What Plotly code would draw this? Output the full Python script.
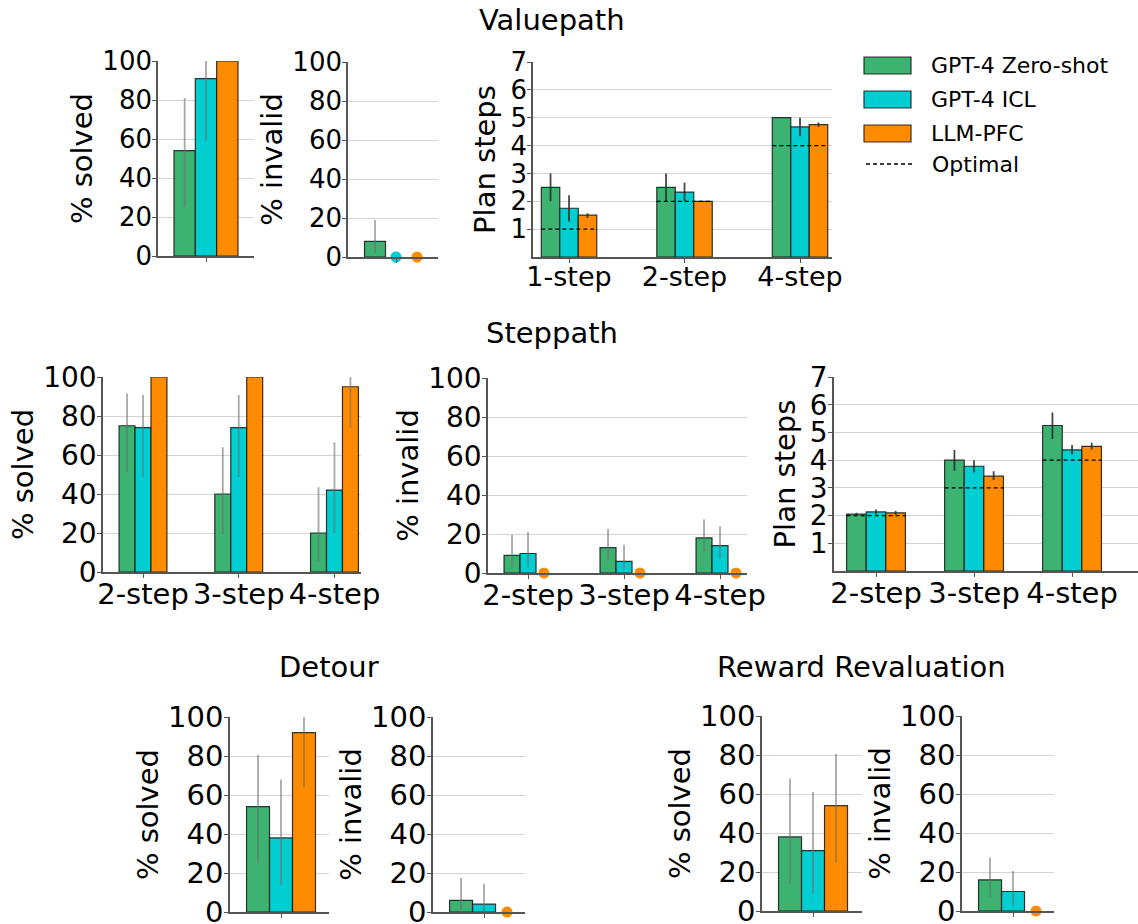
import plotly.graph_objects as go

# ---------------- data ----------------
SERIES = ["GPT-4 Zero-shot", "GPT-4 ICL", "LLM-PFC"]
COLORS = ["#3cb371", "#00ced1", "#ff8c00"]

vp_steps = ["1-step", "2-step", "4-step"]
sp_steps = ["2-step", "3-step", "4-step"]
single = [""]

# Valuepath
vp_solved_mean = [[54], [91], [100]]
vp_solved_lo = [[25], [59], [100]]
vp_solved_hi = [[81], [100], [100]]

vp_invalid_mean = [[8], [0], [0]]
vp_invalid_lo = [[2], [0], [0]]
vp_invalid_hi = [[19], [0], [0]]

vp_plan_mean = [[2.5, 2.5, 5.0], [1.75, 2.33, 4.67], [1.5, 2.0, 4.75]]
vp_plan_lo = [[2.0, 2.0, 5.0], [1.27, 2.0, 4.33], [1.4, 2.0, 4.67]]
vp_plan_hi = [[3.0, 3.0, 5.0], [2.22, 2.67, 5.0], [1.57, 2.0, 4.83]]
vp_optimal = [1, 2, 4]

# Steppath
sp_solved_mean = [[75, 40, 20], [74, 74, 42], [100, 100, 95]]
sp_solved_lo = [[51, 19, 5.5], [48.7, 48.7, 20], [100, 100, 74]]
sp_solved_hi = [[91.5, 64, 43.5], [90.8, 90.8, 66.5], [100, 100, 100]]

sp_invalid_mean = [[9, 13, 18], [10, 6, 14], [0, 0, 0]]
sp_invalid_lo = [[3, 7, 11], [3, 2, 7.5], [0, 0, 0]]
sp_invalid_hi = [[19.5, 22.5, 27.5], [21, 14.5, 24], [0, 0, 0]]

sp_plan_mean = [[2.05, 4.0, 5.25], [2.13, 3.78, 4.37], [2.1, 3.42, 4.5]]
sp_plan_lo = [[2.0, 3.62, 4.76], [2.05, 3.55, 4.2], [2.03, 3.28, 4.38]]
sp_plan_hi = [[2.1, 4.37, 5.72], [2.22, 4.0, 4.55], [2.17, 3.6, 4.63]]
sp_optimal = [2, 3, 4]

# Detour
dt_solved_mean = [[54], [38], [92]]
dt_solved_lo = [[25], [14], [64]]
dt_solved_hi = [[80.5], [68], [100]]

dt_invalid_mean = [[6], [4], [0]]
dt_invalid_lo = [[1], [0], [0]]
dt_invalid_hi = [[17.5], [14.5], [0]]

# Reward Revaluation
rr_solved_mean = [[38], [31], [54]]
rr_solved_lo = [[14], [9], [25]]
rr_solved_hi = [[68], [61], [80.5]]

rr_invalid_mean = [[16], [10], [0]]
rr_invalid_lo = [[7], [3], [0]]
rr_invalid_hi = [[27.5], [20.5], [0]]

pct_ticks = [0, 20, 40, 60, 80, 100]
step_ticks = [1, 2, 3, 4, 5, 6, 7]

# ---------------- layout helpers ----------------
W, H = 1138, 924
FONT = "DejaVu Sans"
AXIS_COL = "#555555"
GRID_COL = "#d4d4d4"

fig = go.Figure()
layout_axes = {}


def add_panel(k, cats, mean, lo, hi, px_x, px_y, xrange, w, kind,
              ytitle, tick_size, optimal=None):
    xa = "x" if k == 1 else f"x{k}"
    ya = "y" if k == 1 else f"y{k}"
    n = len(cats)
    err_col = "rgba(110,110,110,0.6)" if kind == "pct" else "rgba(40,40,40,0.85)"
    for j in range(3):
        xs = [i + (j - 1) * w for i in range(n)]
        ys = [v if v != 0 else None for v in mean[j]]
        plus = [h - v for h, v in zip(hi[j], mean[j])]
        minus = [v - l for l, v in zip(lo[j], mean[j])]
        fig.add_trace(go.Bar(
            x=xs, y=ys, width=w, name=SERIES[j], showlegend=False,
            marker=dict(color=COLORS[j], line=dict(color="rgba(20,20,20,0.85)", width=1.2)),
            error_y=dict(type="data", symmetric=False, array=plus, arrayminus=minus,
                         color=err_col, thickness=1.8, width=0),
            xaxis=xa, yaxis=ya))
        zx = [x for x, v in zip(xs, mean[j]) if v == 0]
        if zx:
            fig.add_trace(go.Scatter(
                x=zx, y=[0] * len(zx), mode="markers", showlegend=False,
                marker=dict(color=COLORS[j], size=11, line=dict(width=0)),
                cliponaxis=False, xaxis=xa, yaxis=ya))
    if optimal is not None:
        ox, oy = [], []
        for i, v in enumerate(optimal):
            ox += [i - 1.5 * w, i + 1.5 * w, None]
            oy += [v, v, None]
        fig.add_trace(go.Scatter(
            x=ox, y=oy, mode="lines", showlegend=False, name="Optimal",
            line=dict(color="black", dash="4px,3px", width=1.3),
            xaxis=xa, yaxis=ya))

    if kind == "pct":
        yr, tv, stand = [0, 100], pct_ticks, 1
    else:
        yr, tv, stand = [0, 7], step_ticks, 6
    xkey = "xaxis" if k == 1 else f"xaxis{k}"
    ykey = "yaxis" if k == 1 else f"yaxis{k}"
    layout_axes[xkey] = dict(
        domain=[px_x[0] / W, px_x[1] / W], range=xrange, anchor=ya,
        tickmode="array", tickvals=list(range(n)), ticktext=cats,
        ticks="outside", ticklen=4, tickwidth=1.2, tickcolor=AXIS_COL,
        ticklabelstandoff=-9, ticklabeloverflow="allow",
        showline=True, linecolor=AXIS_COL, linewidth=1.6,
        showgrid=False, zeroline=False, automargin=False, fixedrange=True,
        tickfont=dict(family=FONT, size=tick_size + 1, color="black"))
    layout_axes[ykey] = dict(
        domain=[1 - px_y[1] / H, 1 - px_y[0] / H], range=yr, anchor=xa,
        tickmode="array", tickvals=tv,
        ticks="outside", ticklen=4, tickwidth=1.2, tickcolor=AXIS_COL,
        ticklabelstandoff=-5, ticklabeloverflow="allow",
        showline=True, linecolor=AXIS_COL, linewidth=1.6,
        showgrid=True, gridcolor=GRID_COL, gridwidth=1.2,
        zeroline=False, automargin=False, fixedrange=True,
        tickfont=dict(family=FONT, size=tick_size, color="black"),
        title=dict(text=ytitle, standoff=stand, font=dict(family=FONT, size=29, color="black")))


W6 = 1 / 6
# Valuepath row
add_panel(1, single, vp_solved_mean, vp_solved_lo, vp_solved_hi,
          (158, 254), (61, 256), [-0.375, 0.375], W6, "pct", "% solved", 26)
add_panel(2, single, vp_invalid_mean, vp_invalid_lo, vp_invalid_hi,
          (348, 438), (62, 257), [-0.381, 0.333], W6, "pct", "% invalid", 26)
add_panel(3, vp_steps, vp_plan_mean, vp_plan_lo, vp_plan_hi,
          (533, 832), (62, 257), [-0.312, 2.277], 0.16, "steps", "Plan steps", 26,
          optimal=vp_optimal)
# Steppath row
add_panel(4, sp_steps, sp_solved_mean, sp_solved_lo, sp_solved_hi,
          (103, 361), (377, 572), [-0.418, 2.277], W6, "pct", "% solved", 28)
add_panel(5, sp_steps, sp_invalid_mean, sp_invalid_lo, sp_invalid_hi,
          (488, 747), (378, 573), [-0.417, 2.281], W6, "pct", "% invalid", 28)
add_panel(6, sp_steps, sp_plan_mean, sp_plan_lo, sp_plan_hi,
          (834, 1138), (377, 571), [-0.429, 2.673], 0.2, "steps", "Plan steps", 28,
          optimal=sp_optimal)
# Detour
add_panel(7, single, dt_solved_mean, dt_solved_lo, dt_solved_hi,
          (230, 329), (717, 912), [-0.37, 0.348], W6, "pct", "% solved", 29)
add_panel(8, single, dt_invalid_mean, dt_invalid_lo, dt_invalid_hi,
          (433, 525), (717, 912), [-0.37, 0.297], W6, "pct", "% invalid", 29)
# Reward Revaluation
add_panel(9, single, rr_solved_mean, rr_solved_lo, rr_solved_hi,
          (762, 862), (716, 911), [-0.37, 0.355], W6, "pct", "% solved", 29)
add_panel(10, single, rr_invalid_mean, rr_invalid_lo, rr_invalid_hi,
          (962, 1054), (716, 911), [-0.37, 0.297], W6, "pct", "% invalid", 29)

# ---------------- titles ----------------
annotations = []
for text, cx, cy in [("Valuepath", 552, 20), ("Steppath", 552, 333),
                     ("Detour", 329, 667), ("Reward Revaluation", 861, 667)]:
    annotations.append(dict(text=text, x=cx / W, y=1 - cy / H, xref="paper", yref="paper",
                            xanchor="center", yanchor="middle", showarrow=False,
                            font=dict(family=FONT, size=29, color="black")))

# ---------------- legend (drawn manually to mimic patch boxes) ----------------
shapes = []
legend_rows = [(57, 74), (91, 108), (125, 142)]
for j, (t, b) in enumerate(legend_rows):
    shapes.append(dict(type="rect", xref="paper", yref="paper",
                       x0=864 / W, x1=911 / W, y0=1 - b / H, y1=1 - t / H,
                       fillcolor=COLORS[j], line=dict(color="rgba(20,20,20,0.85)", width=1.2)))
    annotations.append(dict(text=SERIES[j], x=929 / W, y=1 - (t + b) / 2 / H,
                            xref="paper", yref="paper", xanchor="left", yanchor="middle",
                            showarrow=False, font=dict(family=FONT, size=22, color="black")))
shapes.append(dict(type="line", xref="paper", yref="paper",
                   x0=866 / W, x1=912 / W, y0=1 - 164 / H, y1=1 - 164 / H,
                   line=dict(color="black", width=1.3, dash="4px,3px")))
annotations.append(dict(text="Optimal", x=930 / W, y=1 - 164 / H, xref="paper", yref="paper",
                        xanchor="left", yanchor="middle", showarrow=False,
                        font=dict(family=FONT, size=22, color="black")))

fig.update_layout(
    width=W, height=H, autosize=False,
    margin=dict(l=0, r=0, t=0, b=0),
    paper_bgcolor="white", plot_bgcolor="white",
    barmode="overlay", showlegend=False,
    font=dict(family=FONT, color="black"),
    annotations=annotations, shapes=shapes,
    **layout_axes)

fig.write_html("out.html", config={"displayModeBar": False},
               post_script="document.body.style.margin='0px';")
